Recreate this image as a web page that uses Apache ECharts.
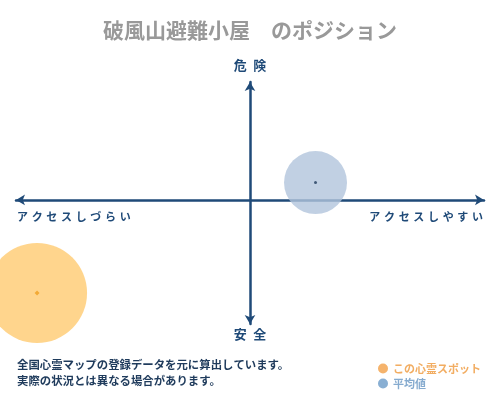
<!DOCTYPE html>
<html>
<head>
<meta charset="utf-8">
<script src="https://cdn.jsdelivr.net/npm/echarts@6/dist/echarts.min.js"></script>
<style>
  html, body { margin: 0; padding: 0; background: #fff; }
  #chart { width: 500px; height: 400px; }
</style>
</head>
<body>
<div id="chart"></div>
<script>
// 位置データ（x: アクセス, y: 危険度）
const spotName = 'この心霊スポット'
const avgName = '平均値'
const spotPoint = [-91, -75]
const avgPoint = [28, 14]
const axisLabels = ['危\u2002険', '安\u2002全', 'アクセスしづらい', 'アクセスしやすい']
const noteLines = ['全国心霊マップの登録データを元に算出しています。', '実際の状況とは異なる場合があります。']

const FONT = '"Noto Sans CJK JP", "Noto Sans", sans-serif'
const NAVY = '#1f4a78'

// 文字間を少し空ける
function spaced(s) {
  return s.split('').join('\u2004')
}

;(function() {
  let myChart = echarts.init(document.getElementById('chart'))
  let option = {
    animation: false,
    title: {
      text: '破風山避難小屋　のポジション',
      left: 'center',
      top: 15,
      textStyle: { fontFamily: FONT, fontSize: 21, fontWeight: 'bold', color: '#999' }
    },
    legend: {
      orient: 'vertical',
      left: 373,
      top: 358,
      itemWidth: 10,
      itemHeight: 10,
      itemGap: 4,
      icon: 'circle',
      data: [
        { name: spotName, itemStyle: { color: '#f2a047' }, textStyle: { color: '#f2ad62' } },
        { name: avgName, itemStyle: { color: '#6c9bc8' }, textStyle: { color: '#86abcf' } }
      ],
      textStyle: { fontFamily: FONT, fontSize: 11, fontWeight: 'bold' }
    },
    grid: { left: 16, right: 16, top: 82, bottom: 76 },
    xAxis: {
      type: 'value',
      min: -100,
      max: 100,
      axisLine: {
        onZero: true,
        symbol: ['arrow', 'arrow'],
        symbolSize: [8, 9],
        lineStyle: { color: NAVY, width: 2.5 }
      },
      axisTick: { show: false },
      axisLabel: { show: false },
      splitLine: { show: false }
    },
    yAxis: {
      type: 'value',
      min: -100,
      max: 95,
      axisLine: {
        onZero: true,
        symbol: ['arrow', 'arrow'],
        symbolSize: [8, 9],
        lineStyle: { color: NAVY, width: 2.5 }
      },
      axisTick: { show: false },
      axisLabel: { show: false },
      splitLine: { show: false }
    },
    graphic: [
      { type: 'text', left: 'center', top: 59, style: { text: axisLabels[0], fill: NAVY, font: 'bold 13px ' + FONT } },
      { type: 'text', left: 'center', top: 328, style: { text: axisLabels[1], fill: NAVY, font: 'bold 13px ' + FONT } },
      { type: 'text', left: 17, top: 211, style: { text: spaced(axisLabels[2]), fill: NAVY, font: 'bold 11px ' + FONT } },
      { type: 'text', right: 17, top: 211, style: { text: spaced(axisLabels[3]), fill: NAVY, font: 'bold 11px ' + FONT } },
      { type: 'text', left: 17, top: 359, style: { text: noteLines[0], fill: '#1f3b5c', font: 'bold 11.4px ' + FONT } },
      { type: 'text', left: 17, top: 375, style: { text: noteLines[1], fill: '#1f3b5c', font: 'bold 11.4px ' + FONT } }
    ],
    series: [
      {
        name: avgName,
        type: 'scatter',
        symbolSize: 63,
        data: [avgPoint],
        itemStyle: { color: '#b1c4dc' },
        z: 1
      },
      {
        name: spotName,
        type: 'scatter',
        symbolSize: 100,
        data: [spotPoint],
        itemStyle: { color: '#ffca70' },
        z: 1
      },
      {
        name: 'center',
        type: 'scatter',
        symbolSize: 3,
        data: [avgPoint],
        itemStyle: { color: '#1f3b5c' },
        silent: true,
        z: 3
      },
      {
        name: 'center2',
        type: 'scatter',
        symbol: 'diamond',
        symbolSize: 5,
        data: [spotPoint],
        itemStyle: { color: '#f0a020' },
        silent: true,
        z: 3
      }
    ]
  }
  myChart.setOption(option)
  window.addEventListener('resize', function() {
    myChart.resize()
  })
})()
</script>
</body>
</html>
